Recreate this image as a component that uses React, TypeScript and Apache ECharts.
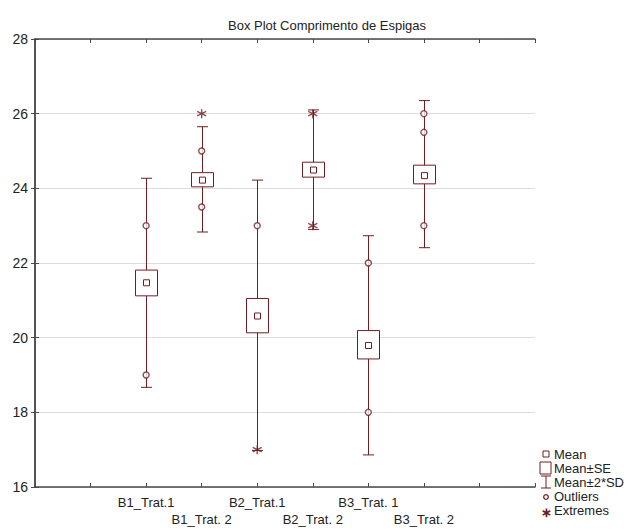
import React, { useEffect, useRef } from "react";
import * as echarts from "echarts";

const categories = ["B1_Trat.1", "B1_Trat. 2", "B2_Trat.1", "B2_Trat. 2", "B3_Trat. 1", "B3_Trat. 2"];
const positions = [2, 3, 4, 5, 6, 7];
const means = [21.47, 24.22, 20.58, 24.49, 19.79, 24.34];
const seLow = [21.12, 24.04, 20.13, 24.3, 19.43, 24.12];
const seHigh = [21.81, 24.42, 21.05, 24.7, 20.19, 24.62];
const sdLow = [18.67, 22.83, 16.98, 22.9, 16.86, 22.41];
const sdHigh = [24.27, 25.65, 24.22, 26.1, 22.73, 26.35];
// outliers: [categoryIndex, value]
const outliers: [number, number][] = [
  [0, 23.0], [0, 19.0],
  [1, 25.0], [1, 23.5],
  [2, 23.0],
  [4, 22.0], [4, 18.0],
  [5, 26.0], [5, 25.5], [5, 23.0],
];
const extremes: [number, number][] = [
  [1, 26.0],
  [2, 17.0],
  [3, 26.0], [3, 23.0],
];
const yTicks = [16, 18, 20, 22, 24, 26, 28];
const legendItems = ["Mean", "Mean±SE", "Mean±2*SD", "Outliers", "Extremes"];

const COLOR = "#6e1e22";
const AXIS = "#4a4a4a";
const ASTERISK = "path://M0,-5L0,5M-4.33,-2.5L4.33,2.5M-4.33,2.5L4.33,-2.5";
const FONT = "'Liberation Sans', Arial, sans-serif";

export default function App() {
  const ref = useRef<HTMLDivElement>(null);
  useEffect(() => {
    if (!ref.current) return;
    const chart = echarts.init(ref.current, null, { renderer: "svg" });
    const boxData = positions.map((p, i) => [p, means[i], seLow[i], seHigh[i], sdLow[i], sdHigh[i]]);
    const labelFor = (v: number) => {
      const idx = positions.indexOf(v);
      if (idx < 0) return "";
      return idx % 2 === 1 ? "\n" + categories[idx] : categories[idx];
    };
    const lx = 546;
    const ly = [454, 468, 482, 496, 510];
    const legendGraphics: any[] = [
      { type: "rect", shape: { x: lx - 3, y: ly[0] - 3, width: 6, height: 6 }, style: { fill: "#fff", stroke: COLOR, lineWidth: 1 } },
      { type: "rect", shape: { x: lx - 6, y: ly[1] - 6, width: 11, height: 12 }, style: { fill: "#fff", stroke: COLOR, lineWidth: 1 } },
      { type: "line", shape: { x1: lx, y1: ly[2] - 6, x2: lx, y2: ly[2] + 6 }, style: { stroke: COLOR, lineWidth: 1 } },
      { type: "line", shape: { x1: lx - 5, y1: ly[2] - 6, x2: lx + 5, y2: ly[2] - 6 }, style: { stroke: COLOR, lineWidth: 1 } },
      { type: "line", shape: { x1: lx - 5, y1: ly[2] + 6, x2: lx + 5, y2: ly[2] + 6 }, style: { stroke: COLOR, lineWidth: 1 } },
      { type: "circle", shape: { cx: lx, cy: ly[3] + 1, r: 2.3 }, style: { fill: "#fff", stroke: COLOR, lineWidth: 1.3 } },
      { type: "text", x: lx, y: ly[4] + 2, style: { text: "∗", fill: COLOR, font: "bold 13px 'Liberation Sans'", textAlign: "center", textVerticalAlign: "middle" } },
      ...legendItems.map((t, i) => ({
        type: "text",
        x: 554,
        y: ly[i],
        style: { text: t, fill: "#222", font: "13px " + FONT, textVerticalAlign: "middle" },
      })),
    ];
    chart.setOption({
      animation: false,
      backgroundColor: "#fff",
      title: {
        text: "Box Plot Comprimento de Espigas",
        left: 322,
        top: 14,
        textAlign: "center",
        textStyle: { fontFamily: FONT, fontSize: 13, fontWeight: "normal", color: "#222" },
      },
      grid: { left: 35, right: 93, top: 39, bottom: 42 },
      xAxis: [
        {
          type: "value", min: 0, max: 9, interval: 1, position: "bottom",
          axisLine: { show: true, lineStyle: { color: AXIS, width: 1.5 } },
          axisTick: { show: true, inside: true, length: 4, lineStyle: { color: AXIS } },
          splitLine: { show: false },
          axisLabel: {
            formatter: (v: number) => labelFor(v),
            color: "#222", fontSize: 13, lineHeight: 17, margin: 7,
            fontFamily: FONT,
          },
        },
        {
          type: "value", min: 0, max: 9, interval: 1, position: "top",
          axisLine: { show: true, lineStyle: { color: AXIS, width: 1.5 } },
          axisTick: { show: true, inside: true, length: 4, lineStyle: { color: AXIS } },
          splitLine: { show: false },
          axisLabel: { show: false },
        },
      ],
      yAxis: [
        {
          type: "value", min: 16, max: 28, interval: 2, position: "left",
          axisLine: { show: true, lineStyle: { color: AXIS, width: 1.5 } },
          axisTick: { show: true, inside: true, length: 4, lineStyle: { color: AXIS } },
          splitLine: { show: true, lineStyle: { color: "#dcdcdc", width: 1 } },
          axisLabel: {
            formatter: (v: number) => (yTicks.includes(v) ? String(v) : ""),
            color: "#222", fontSize: 14, margin: 7,
            fontFamily: FONT,
          },
        },
        {
          type: "value", min: 16, max: 28, interval: 2, position: "right",
          axisLine: { show: true, lineStyle: { color: AXIS, width: 1.5 } },
          axisTick: { show: true, inside: true, length: 4, lineStyle: { color: AXIS } },
          splitLine: { show: false },
          axisLabel: { show: false },
        },
      ],
      series: [
        {
          type: "custom",
          xAxisIndex: 0,
          yAxisIndex: 0,
          data: boxData,
          renderItem: (params: any, api: any) => {
            const x = api.value(0);
            const m = api.coord([x, api.value(1)]);
            const seL = api.coord([x, api.value(2)]);
            const seH = api.coord([x, api.value(3)]);
            const sdL = api.coord([x, api.value(4)]);
            const sdH = api.coord([x, api.value(5)]);
            const cx = Math.round(m[0]) + 0.5;
            const bw = 22;
            const cw = 11;
            const st = { stroke: COLOR, lineWidth: 1, fill: "none" };
            return {
              type: "group",
              children: [
                { type: "line", shape: { x1: cx, y1: sdH[1], x2: cx, y2: sdL[1] }, style: st },
                { type: "line", shape: { x1: cx - cw / 2, y1: sdH[1], x2: cx + cw / 2, y2: sdH[1] }, style: st },
                { type: "line", shape: { x1: cx - cw / 2, y1: sdL[1], x2: cx + cw / 2, y2: sdL[1] }, style: st },
                { type: "rect", shape: { x: cx - bw / 2, y: seH[1], width: bw, height: seL[1] - seH[1] }, style: { stroke: COLOR, lineWidth: 1, fill: "#fff" } },
                { type: "rect", shape: { x: cx - 3, y: m[1] - 3, width: 6, height: 6 }, style: { stroke: COLOR, lineWidth: 1, fill: "#fff" } },
              ],
            };
          },
          z: 2,
        },
        {
          type: "scatter",
          name: "Outliers",
          data: outliers.map(([i, v]) => [positions[i], v]),
          symbol: "circle",
          symbolSize: 6,
          itemStyle: { color: "#fff", borderColor: COLOR, borderWidth: 1.4 },
          z: 3,
        },
        {
          type: "scatter",
          name: "Extremes",
          data: extremes.map(([i, v]) => [positions[i], v]),
          symbol: ASTERISK,
          symbolSize: [9, 9],
          itemStyle: { color: "none", borderColor: COLOR, borderWidth: 1.4 },
          z: 3,
        },
      ],
      graphic: legendGraphics,
    });
    return () => chart.dispose();
  }, []);
  return <div ref={ref} style={{ width: 628, height: 529, position: "absolute", left: 0, top: 0 }} />;
}
